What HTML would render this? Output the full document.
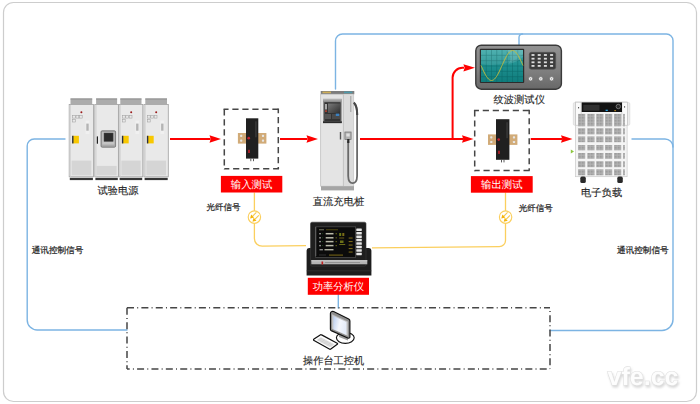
<!DOCTYPE html>
<html><head><meta charset="utf-8"><title>DC charging pile test system</title>
<style>
html,body{margin:0;padding:0;background:#fff;}
body{width:700px;height:404px;overflow:hidden;font-family:"Liberation Sans",sans-serif;}
svg{display:block;}
svg text{font-family:"Liberation Sans",sans-serif;text-rendering:geometricPrecision;}
</style></head>
<body>
<svg width="700" height="404" viewBox="0 0 700 404">
<defs><filter id="wm" x="-10%" y="-20%" width="130%" height="160%"><feGaussianBlur in="SourceAlpha" stdDeviation="1"/><feOffset dx="1" dy="1.5" result="b"/><feFlood flood-color="#d8d8d8"/><feComposite in2="b" operator="in"/><feMerge><feMergeNode/><feMergeNode in="SourceGraphic"/></feMerge></filter></defs>
<rect x="3.5" y="2.5" width="693" height="399" rx="10" ry="10" fill="#fff" stroke="#cdcdcd" stroke-width="1.2"/>
<text x="643" y="384.5" text-anchor="middle" font-family="Liberation Sans, sans-serif" font-weight="bold" font-size="25" fill="#fdfdfd" stroke="#e0e0e0" stroke-width="1.1" paint-order="stroke" filter="url(#wm)">vfe.cc</text>
<path d="M65,139 H34.2 A7,7 0 0 0 27.2,146 V320 A10,10 0 0 0 37.2,330 H127" fill="none" stroke="#7cb4e3" stroke-width="1.4" stroke-linecap="round"/>
<path d="M550,330.5 H662 A11,11 0 0 0 673,319.5 V40.5 A6.5,6.5 0 0 0 666.5,34 H342.5 A7,7 0 0 0 335.5,41 V89" fill="none" stroke="#7cb4e3" stroke-width="1.4" stroke-linecap="round"/>
<path d="M632,139 H665 A8,8 0 0 1 673,147" fill="none" stroke="#7cb4e3" stroke-width="1.4" stroke-linecap="round"/>
<path d="M522.5,34 A3.5,3.5 0 0 0 519,37.5 V45" fill="none" stroke="#7cb4e3" stroke-width="1.4" stroke-linecap="round"/>
<path d="M338.3,294 V308" fill="none" stroke="#7cb4e3" stroke-width="1.4" stroke-linecap="round"/>
<path d="M254.4,192.5 V238.4 A7.8,7.8 0 0 0 262.2,246.2 L306,245.7" fill="none" stroke="#fbcf5e" stroke-width="1.3"/>
<path d="M505.5,192.5 V240.4 A6.2,6.2 0 0 1 499.3,246.6 L372,247.8" fill="none" stroke="#fbcf5e" stroke-width="1.3"/>
<circle cx="254.4" cy="217.1" r="6.2" fill="#fff" stroke="#fbcf5e" stroke-width="1.15"/><line x1="252.67" y1="216.07" x2="256.40" y2="212.40" stroke="#f6c94a" stroke-width="1.05"/><polygon points="250.10,218.60 254.14,217.57 251.19,214.58" fill="#f5b50a"/><line x1="255.05" y1="219.15" x2="258.80" y2="215.40" stroke="#f6c94a" stroke-width="1.05"/><polygon points="252.50,221.70 256.53,220.64 253.56,217.67" fill="#f5b50a"/>
<circle cx="505.6" cy="217.1" r="6.2" fill="#fff" stroke="#fbcf5e" stroke-width="1.15"/><line x1="503.87" y1="216.07" x2="507.60" y2="212.40" stroke="#f6c94a" stroke-width="1.05"/><polygon points="501.30,218.60 505.34,217.57 502.39,214.58" fill="#f5b50a"/><line x1="506.25" y1="219.15" x2="510.00" y2="215.40" stroke="#f6c94a" stroke-width="1.05"/><polygon points="503.70,221.70 507.73,220.64 504.76,217.67" fill="#f5b50a"/>
<path d="M170,139 H210.5" fill="none" stroke="#fe0000" stroke-width="2"/><path d="M221,139 L209.5,135.2 L210.7,139 L209.5,142.8 Z" fill="#fe0000"/>
<path d="M280,139 H307.5" fill="none" stroke="#fe0000" stroke-width="2"/><path d="M318,139 L306.5,135.2 L307.7,139 L306.5,142.8 Z" fill="#fe0000"/>
<path d="M360,139 H463.0" fill="none" stroke="#fe0000" stroke-width="2"/><path d="M473.5,139 L462.0,135.2 L463.2,139 L462.0,142.8 Z" fill="#fe0000"/>
<path d="M530.7,139 H562.0" fill="none" stroke="#fe0000" stroke-width="2"/><path d="M572.5,139 L561.0,135.2 L562.2,139 L561.0,142.8 Z" fill="#fe0000"/>
<path d="M452.6,139 V77.6 A9.8,9.8 0 0 1 462.4,67.8 H464" fill="none" stroke="#fe0000" stroke-width="2"/>
<path d="M475,67.8 L463.4,64.2 L464.6,67.8 L463.4,71.4 Z" fill="#fe0000"/>
<path d="M574,151.5 L570.8,149.6 L570.8,153.4 Z" fill="#8dc63f"/>
<path d="M223.55,109.2 H278.3" fill="none" stroke="#464646" stroke-width="1.5" stroke-dasharray="6.2 3.8" stroke-dashoffset="1.2"/><path d="M224.3,109.2 V169.55" fill="none" stroke="#464646" stroke-width="1.5" stroke-dasharray="6.2 3.8"/><path d="M278.3,108.45 V168.8" fill="none" stroke="#464646" stroke-width="1.5" stroke-dasharray="6.2 3.8" stroke-dashoffset="1.5"/><path d="M224.3,168.8 H279.05" fill="none" stroke="#464646" stroke-width="1.5" stroke-dasharray="6.2 3.8" stroke-dashoffset="1.2"/>
<path d="M473.95,110.4 H529.2" fill="none" stroke="#464646" stroke-width="1.5" stroke-dasharray="6.2 3.8" stroke-dashoffset="1.2"/><path d="M474.7,110.4 V171.15" fill="none" stroke="#464646" stroke-width="1.5" stroke-dasharray="6.2 3.8"/><path d="M529.2,109.65 V170.4" fill="none" stroke="#464646" stroke-width="1.5" stroke-dasharray="6.2 3.8" stroke-dashoffset="1.5"/><path d="M474.7,170.4 H529.95" fill="none" stroke="#464646" stroke-width="1.5" stroke-dasharray="6.2 3.8" stroke-dashoffset="1.2"/>
<path d="M127,307.8 H550" fill="none" stroke="#464646" stroke-width="1.5" stroke-dasharray="7 3.19 1 3.19"/>
<path d="M127,307.8 V369" fill="none" stroke="#464646" stroke-width="1.5" stroke-dasharray="7 3.19 1 3.19"/>
<path d="M127,369 H550" fill="none" stroke="#464646" stroke-width="1.5" stroke-dasharray="7 3.19 1 3.19" stroke-dashoffset="4.3"/>
<path d="M550,307.8 V369" fill="none" stroke="#464646" stroke-width="1.5" stroke-dasharray="7 3.19 1 3.19" stroke-dashoffset="7"/>
<rect x="220.9" y="175.9" width="61.4" height="16.6" fill="#fe0000"/><text x="251.6" y="188.04800000000003" text-anchor="middle" font-size="10.4" font-weight="300" fill="#fff" textLength="41.6" lengthAdjust="spacing">输入测试</text>
<rect x="470.9" y="176.1" width="61.8" height="16.6" fill="#fe0000"/><text x="501.79999999999995" y="188.24800000000002" text-anchor="middle" font-size="10.4" font-weight="300" fill="#fff" textLength="41.6" lengthAdjust="spacing">输出测试</text>
<rect x="307.8" y="277.8" width="61.2" height="17" fill="#fe0000"/><text x="338.40000000000003" y="290.111" text-anchor="middle" font-size="10.3" font-weight="300" fill="#fff" textLength="51.5" lengthAdjust="spacing">功率分析仪</text>
<text x="118" y="194.2" text-anchor="middle" font-size="10.3" font-weight="500" fill="#262626" stroke="#262626" stroke-width="0.12" textLength="41.2" lengthAdjust="spacing">试验电源</text>
<text x="338.5" y="204.6" text-anchor="middle" font-size="10.3" font-weight="500" fill="#262626" stroke="#262626" stroke-width="0.12" textLength="51.5" lengthAdjust="spacing">直流充电桩</text>
<text x="519.2" y="103.2" text-anchor="middle" font-size="10.3" font-weight="500" fill="#262626" stroke="#262626" stroke-width="0.12" textLength="51.5" lengthAdjust="spacing">纹波测试仪</text>
<text x="601.6" y="195.8" text-anchor="middle" font-size="10.3" font-weight="500" fill="#262626" stroke="#262626" stroke-width="0.12" textLength="41.2" lengthAdjust="spacing">电子负载</text>
<text x="333.6" y="363.6" text-anchor="middle" font-size="10.2" font-weight="500" fill="#262626" stroke="#262626" stroke-width="0.12" textLength="61.2" lengthAdjust="spacing">操作台工控机</text>
<text x="223.6" y="210.3" text-anchor="middle" font-size="8.5" font-weight="500" fill="#262626" stroke="#262626" stroke-width="0.22" textLength="34.0" lengthAdjust="spacing">光纤信号</text>
<text x="535.7" y="210.8" text-anchor="middle" font-size="8.5" font-weight="500" fill="#262626" stroke="#262626" stroke-width="0.22" textLength="34.0" lengthAdjust="spacing">光纤信号</text>
<text x="57.5" y="252.5" text-anchor="middle" font-size="8.6" font-weight="500" fill="#262626" stroke="#262626" stroke-width="0.22" textLength="51.6" lengthAdjust="spacing">通讯控制信号</text>
<text x="642.8" y="252.5" text-anchor="middle" font-size="8.6" font-weight="500" fill="#262626" stroke="#262626" stroke-width="0.22" textLength="51.6" lengthAdjust="spacing">通讯控制信号</text>
<rect x="70.5" y="98.5" width="21.7" height="6" fill="#acacac"/><rect x="70.5" y="98.5" width="21.7" height="1" fill="#8e8e8e"/><rect x="69.2" y="104.5" width="24.3" height="72.3" fill="#e9e9e9" stroke="#a4a4a4" stroke-width="0.85"/><rect x="69.60000000000001" y="104.9" width="1.4" height="71.5" fill="#d6d6d6"/><rect x="69.8" y="177.8" width="23.1" height="2.3" fill="#363636"/><rect x="71.60000000000001" y="160.6" width="19.700000000000003" height="14.7" fill="#d5d5d5"/><circle cx="81.4" cy="112.2" r="1" fill="#9a1a1a"/><rect x="72.6" y="115.5" width="2.8" height="2.6" fill="none" stroke="#a0a0a0" stroke-width="0.55"/><rect x="76.0" y="115.5" width="2.8" height="2.6" fill="none" stroke="#a0a0a0" stroke-width="0.55"/><rect x="79.4" y="115.5" width="2.8" height="2.6" fill="none" stroke="#a0a0a0" stroke-width="0.55"/><rect x="72.60000000000001" y="119.6" width="2.8" height="2.4" fill="none" stroke="#a0a0a0" stroke-width="0.55"/><rect x="85.6" y="120.5" width="3.8" height="13.5" fill="#f0f0f0"/><rect x="86.30000000000001" y="123.6" width="2.4" height="7.1" fill="#b4b4b4"/><rect x="72.10000000000001" y="135.8" width="6.8" height="7.6" fill="#f8c800"/><rect x="72.10000000000001" y="135.8" width="1.4" height="7.6" fill="#2b3048"/>
<rect x="96.1" y="98.5" width="21.0" height="6" fill="#acacac"/><rect x="96.1" y="98.5" width="21.0" height="1" fill="#8e8e8e"/><rect x="94.8" y="104.5" width="23.6" height="72.3" fill="#e9e9e9" stroke="#a4a4a4" stroke-width="0.85"/><rect x="95.2" y="104.9" width="1.4" height="71.5" fill="#d6d6d6"/><rect x="95.39999999999999" y="177.8" width="22.400000000000002" height="2.3" fill="#363636"/><rect x="96.6" y="165.9" width="20.0" height="9.4" fill="#d5d5d5"/><rect x="101.0" y="130.8" width="14.6" height="16.4" rx="1.2" fill="#a9a9a9" stroke="#6e6e6e" stroke-width="0.8"/><rect x="102.2" y="132" width="12.2" height="12.6" fill="#c4c4c4"/><rect x="104.0" y="133" width="9.1" height="8.4" fill="#2c2c2c" stroke="#4a4a4a" stroke-width="0.5"/><rect x="96.8" y="136.3" width="1.2" height="7.4" rx="0.5" fill="#222"/>
<rect x="120.3" y="98.5" width="21.2" height="6" fill="#acacac"/><rect x="120.3" y="98.5" width="21.2" height="1" fill="#8e8e8e"/><rect x="119" y="104.5" width="23.8" height="72.3" fill="#e9e9e9" stroke="#a4a4a4" stroke-width="0.85"/><rect x="119.4" y="104.9" width="1.4" height="71.5" fill="#d6d6d6"/><rect x="119.6" y="177.8" width="22.6" height="2.3" fill="#363636"/><rect x="121.4" y="160.6" width="19.200000000000003" height="14.7" fill="#d5d5d5"/><circle cx="131.2" cy="112.2" r="1" fill="#9a1a1a"/><rect x="122.4" y="115.5" width="2.8" height="2.6" fill="none" stroke="#a0a0a0" stroke-width="0.55"/><rect x="125.8" y="115.5" width="2.8" height="2.6" fill="none" stroke="#a0a0a0" stroke-width="0.55"/><rect x="129.2" y="115.5" width="2.8" height="2.6" fill="none" stroke="#a0a0a0" stroke-width="0.55"/><rect x="122.4" y="119.6" width="2.8" height="2.4" fill="none" stroke="#a0a0a0" stroke-width="0.55"/><rect x="135.4" y="120.5" width="3.8" height="13.5" fill="#f0f0f0"/><rect x="136.1" y="123.6" width="2.4" height="7.1" fill="#b4b4b4"/><rect x="121.9" y="135.8" width="6.8" height="7.6" fill="#f8c800"/><rect x="121.9" y="135.8" width="1.4" height="7.6" fill="#2b3048"/>
<rect x="145.3" y="98.5" width="21.7" height="6" fill="#acacac"/><rect x="145.3" y="98.5" width="21.7" height="1" fill="#8e8e8e"/><rect x="144" y="104.5" width="24.3" height="72.3" fill="#e9e9e9" stroke="#a4a4a4" stroke-width="0.85"/><rect x="144.4" y="104.9" width="1.4" height="71.5" fill="#d6d6d6"/><rect x="144.6" y="177.8" width="23.1" height="2.3" fill="#363636"/><rect x="146.4" y="160.6" width="19.700000000000003" height="14.7" fill="#d5d5d5"/><circle cx="156.2" cy="112.2" r="1" fill="#9a1a1a"/><rect x="147.4" y="115.5" width="2.8" height="2.6" fill="none" stroke="#a0a0a0" stroke-width="0.55"/><rect x="150.8" y="115.5" width="2.8" height="2.6" fill="none" stroke="#a0a0a0" stroke-width="0.55"/><rect x="154.2" y="115.5" width="2.8" height="2.6" fill="none" stroke="#a0a0a0" stroke-width="0.55"/><rect x="147.4" y="119.6" width="2.8" height="2.4" fill="none" stroke="#a0a0a0" stroke-width="0.55"/><rect x="160.4" y="120.5" width="3.8" height="13.5" fill="#f0f0f0"/><rect x="161.1" y="123.6" width="2.4" height="7.1" fill="#b4b4b4"/><rect x="146.9" y="135.8" width="6.8" height="7.6" fill="#f8c800"/><rect x="146.9" y="135.8" width="1.4" height="7.6" fill="#2b3048"/>
<rect x="237.9" y="133" width="28.5" height="10.6" fill="#d1ab78"/><rect x="240.10000000000002" y="134.8" width="2.2" height="2.2" rx="0.7" fill="#e6e6e6"/><rect x="240.10000000000002" y="139.5" width="2.2" height="2.2" rx="0.7" fill="#e6e6e6"/><rect x="261.90000000000003" y="134.8" width="2.2" height="2.2" rx="0.7" fill="#e6e6e6"/><rect x="261.90000000000003" y="139.5" width="2.2" height="2.2" rx="0.7" fill="#e6e6e6"/><rect x="246" y="118.3" width="12.3" height="40.3" fill="#202020"/><rect x="255.5" y="121.3" width="0.9" height="16" fill="#4a4a4a"/><circle cx="248.7" cy="138.2" r="1.35" fill="#c4202e"/><rect x="248.1" y="149.8" width="1.8" height="3.2" fill="#b02028"/><rect x="250.45000000000002" y="158.6" width="0.8" height="2.6" fill="#333"/><rect x="253.05" y="158.6" width="0.8" height="2.6" fill="#333"/>
<rect x="488" y="134.4" width="29.4" height="10.5" fill="#d1ab78"/><rect x="490.2" y="136.20000000000002" width="2.2" height="2.2" rx="0.7" fill="#e6e6e6"/><rect x="490.2" y="140.9" width="2.2" height="2.2" rx="0.7" fill="#e6e6e6"/><rect x="512.9" y="136.20000000000002" width="2.2" height="2.2" rx="0.7" fill="#e6e6e6"/><rect x="512.9" y="140.9" width="2.2" height="2.2" rx="0.7" fill="#e6e6e6"/><rect x="496" y="119.2" width="13.4" height="40.6" fill="#202020"/><rect x="506.59999999999997" y="122.2" width="0.9" height="16" fill="#4a4a4a"/><circle cx="498.7" cy="139.6" r="1.35" fill="#c4202e"/><rect x="498.1" y="150.7" width="1.8" height="3.2" fill="#b02028"/><rect x="501.0" y="159.8" width="0.8" height="2.6" fill="#333"/><rect x="503.59999999999997" y="159.8" width="0.8" height="2.6" fill="#333"/>
<rect x="320.7" y="91" width="33.6" height="3.2" fill="#7d7d7d"/>
<rect x="322.5" y="91.6" width="8.5" height="1.6" fill="#cfae58"/>
<rect x="344" y="91.6" width="8.3" height="1.6" fill="#4f9aab"/>
<rect x="320.7" y="94.2" width="33" height="92" fill="#e4e4e4" stroke="#b8b8b8" stroke-width="0.7"/>
<rect x="343.4" y="94.5" width="10" height="91.5" fill="#dcdcdc"/>
<line x1="343.4" y1="94.5" x2="343.4" y2="186" stroke="#b0b0b0" stroke-width="0.6"/>
<defs><linearGradient id="cps" x1="0" y1="0" x2="1" y2="1"><stop offset="0" stop-color="#7a7a7a"/><stop offset="1" stop-color="#303030"/></linearGradient></defs>
<rect x="323" y="98.9" width="18.8" height="24.2" fill="#8e8e8e"/>
<rect x="323" y="98.9" width="18.8" height="1.6" fill="#b0b0b0"/>
<rect x="324.3" y="102.2" width="16.3" height="19" fill="#333"/>
<rect x="328" y="103.5" width="12" height="9.5" fill="url(#cps)"/>
<rect x="325" y="104" width="2" height="5.5" fill="#aaa"/>
<rect x="325" y="110.3" width="2" height="1.6" fill="#b04030"/>
<rect x="325" y="114" width="6" height="5" fill="#555"/>
<rect x="332" y="114" width="8" height="5" fill="#4a4a4a"/>
<rect x="335.8" y="113.6" width="3.4" height="2.4" fill="#3a80c0"/>
<rect x="323" y="121.3" width="18.8" height="1.8" fill="#2a2a2a"/>
<rect x="350.1" y="96" width="1.3" height="16" fill="#acacac"/>
<rect x="339.8" y="132" width="1.4" height="7.5" fill="#555"/>
<rect x="344.9" y="132" width="6.2" height="7.5" fill="#b0b0b0" stroke="#6f6f6f" stroke-width="0.7"/><rect x="346.3" y="133.5" width="3.4" height="3" fill="#e0e0e0"/>
<path d="M348.2,141 V176 Q348.4,183.2 352.6,183.2 Q356.9,183.2 357.1,176 V114 Q357.1,106.5 354,103.2" fill="none" stroke="#6a6a6a" stroke-width="1.8"/>
<rect x="347.2" y="139" width="2.2" height="4" fill="#2a2a2a"/>
<path d="M353.8,102.6 Q357.2,105.8 357.2,115" fill="none" stroke="#474747" stroke-width="2.1"/>
<rect x="321" y="186.2" width="33" height="4.2" fill="#a5a5a5"/>
<defs><linearGradient id="og" x1="0" y1="0" x2="0" y2="1"><stop offset="0" stop-color="#929292"/><stop offset="0.55" stop-color="#818181"/><stop offset="1" stop-color="#686868"/></linearGradient><linearGradient id="sg" x1="0" y1="0" x2="0" y2="1"><stop offset="0" stop-color="#3ea9a8"/><stop offset="0.5" stop-color="#1d8f8f"/><stop offset="1" stop-color="#0f7c7c"/></linearGradient></defs>
<rect x="475.8" y="45.2" width="85.6" height="44" rx="5.5" fill="url(#og)" stroke="#3a3a3a" stroke-width="1.4"/>
<rect x="479.8" y="48.8" width="44.4" height="34.2" rx="1" fill="#2c2c2c"/>
<rect x="481" y="50" width="42" height="32" fill="url(#sg)"/>
<path d="M486.25,50 V82 M491.50,50 V82 M496.75,50 V82 M502.00,50 V82 M507.25,50 V82 M512.50,50 V82 M517.75,50 V82 M481,55.33 H523 M481,60.67 H523 M481,66.00 H523 M481,71.33 H523 M481,76.67 H523" stroke="#0a6262" stroke-width="0.55" opacity="0.75"/>
<path d="M481,50 H523 V54 Q514,63 499,64.5 Q489,65.5 481,64 Z" fill="#ffffff" opacity="0.09"/>
<path d="M506,50 H523 V57 Q517,62.5 508,64 Q514,58 506,50 Z" fill="#ffffff" opacity="0.12"/>
<polyline points="481.00,65.50 481.50,66.62 482.00,67.74 482.50,68.84 483.00,69.92 483.50,70.98 484.00,72.01 484.50,73.00 485.00,73.95 485.50,74.85 486.00,75.70 486.50,76.50 487.00,77.23 487.50,77.89 488.00,78.49 488.50,79.01 489.00,79.46 489.50,79.83 490.00,80.12 490.50,80.33 491.00,80.46 491.50,80.50 492.00,80.46 492.50,80.33 493.00,80.12 493.50,79.83 494.00,79.46 494.50,79.01 495.00,78.49 495.50,77.89 496.00,77.23 496.50,76.50 497.00,75.70 497.50,74.85 498.00,73.95 498.50,73.00 499.00,72.01 499.50,70.98 500.00,69.92 500.50,68.84 501.00,67.74 501.50,66.62 502.00,65.50 502.50,64.38 503.00,63.26 503.50,62.16 504.00,61.08 504.50,60.02 505.00,58.99 505.50,58.00 506.00,57.05 506.50,56.15 507.00,55.30 507.50,54.50 508.00,53.77 508.50,53.11 509.00,52.51 509.50,51.99 510.00,51.54 510.50,51.17 511.00,50.88 511.50,50.67 512.00,50.54 512.50,50.50 513.00,50.54 513.50,50.67 514.00,50.88 514.50,51.17 515.00,51.54 515.50,51.99 516.00,52.51 516.50,53.11 517.00,53.77 517.50,54.50 518.00,55.30 518.50,56.15 519.00,57.05 519.50,58.00 520.00,58.99 520.50,60.02 521.00,61.08 521.50,62.16 522.00,63.26 522.50,64.38 523.00,65.50" fill="none" stroke="#c4bc3c" stroke-width="0.95"/>
<rect x="529.3" y="52.3" width="26.4" height="17" rx="2" fill="#3c3c3c" stroke="#555" stroke-width="0.6"/>
<rect x="531.5" y="54.1" width="3" height="1.8" fill="#dcdcdc"/>
<rect x="531.5" y="57.800000000000004" width="3" height="1.8" fill="#dcdcdc"/>
<rect x="531.5" y="61.4" width="3" height="1.8" fill="#dcdcdc"/>
<rect x="531.5" y="65.0" width="3" height="1.8" fill="#dcdcdc"/>
<rect x="537.7" y="54.1" width="3" height="1.8" fill="#dcdcdc"/>
<rect x="537.7" y="57.800000000000004" width="3" height="1.8" fill="#dcdcdc"/>
<rect x="537.7" y="61.4" width="3" height="1.8" fill="#dcdcdc"/>
<rect x="537.7" y="65.0" width="3" height="1.8" fill="#dcdcdc"/>
<rect x="543.9" y="54.1" width="3" height="1.8" fill="#dcdcdc"/>
<rect x="543.9" y="57.800000000000004" width="3" height="1.8" fill="#dcdcdc"/>
<rect x="543.9" y="61.4" width="3" height="1.8" fill="#dcdcdc"/>
<rect x="543.9" y="65.0" width="3" height="1.8" fill="#dcdcdc"/>
<rect x="550.1" y="54.1" width="3" height="1.8" fill="#dcdcdc"/>
<rect x="550.1" y="57.800000000000004" width="3" height="1.8" fill="#dcdcdc"/>
<rect x="550.1" y="61.4" width="3" height="1.8" fill="#dcdcdc"/>
<rect x="550.1" y="65.0" width="3" height="1.8" fill="#dcdcdc"/>
<circle cx="530.6" cy="78.8" r="2.2" fill="#eeeeee" stroke="#6a6a6a" stroke-width="0.7"/><circle cx="530.6" cy="78.8" r="0.6" fill="#888"/>
<circle cx="540.8" cy="78.8" r="2.2" fill="#eeeeee" stroke="#6a6a6a" stroke-width="0.7"/><circle cx="540.8" cy="78.8" r="0.6" fill="#888"/>
<circle cx="551.6" cy="78.8" r="2.2" fill="#eeeeee" stroke="#6a6a6a" stroke-width="0.7"/><circle cx="551.6" cy="78.8" r="0.6" fill="#888"/>
<rect x="573.3" y="102.6" width="3.4" height="22.6" rx="1.2" fill="#ececec" stroke="#cfcfcf" stroke-width="0.5"/>
<rect x="626.4" y="102.6" width="3.4" height="22.6" rx="1.2" fill="#ececec" stroke="#cfcfcf" stroke-width="0.5"/>
<rect x="575.5" y="102" width="51.6" height="74.7" fill="#f4f4f4" stroke="#c9c9c9" stroke-width="0.7"/>
<rect x="575.7" y="102.2" width="5.4" height="23" fill="#fafafa" stroke="#bdbdbd" stroke-width="0.6"/>
<rect x="621.9" y="102.2" width="5.4" height="23" fill="#fafafa" stroke="#bdbdbd" stroke-width="0.6"/>
<rect x="581.7" y="102.4" width="40.3" height="9.6" fill="#121212"/>
<rect x="583.3" y="104.8" width="16.2" height="6" fill="#303030"/>
<circle cx="618.3" cy="106.5" r="2.2" fill="#2a2a2a" stroke="#7a7a7a" stroke-width="0.9"/>
<rect x="605.6" y="109.7" width="2.2" height="1.3" fill="#2aa0e0"/>
<rect x="614.5" y="110" width="1.2" height="1.2" fill="#e0a020"/>
<rect x="578" y="107" width="1.1" height="1.4" fill="#555"/><rect x="624" y="106.2" width="1.1" height="1.4" fill="#555"/>
<defs><pattern id="perf" width="1.5" height="1.5" patternUnits="userSpaceOnUse"><rect width="1.5" height="1.5" fill="#b6b6b6"/><rect width="0.9" height="0.9" fill="#939393"/></pattern></defs>
<rect x="578" y="113.9" width="7.2" height="12.4" fill="url(#perf)"/>
<rect x="587.3" y="113.9" width="7.2" height="12.4" fill="url(#perf)"/>
<rect x="596.2" y="113.9" width="7.2" height="12.4" fill="url(#perf)"/>
<rect x="605" y="113.9" width="7.2" height="12.4" fill="url(#perf)"/>
<rect x="614" y="113.9" width="7.2" height="12.4" fill="url(#perf)"/>
<rect x="623" y="113.9" width="1.8" height="12.4" fill="url(#perf)"/>
<rect x="578" y="128.2" width="7.2" height="6.2" fill="url(#perf)"/>
<rect x="587.3" y="128.2" width="7.2" height="6.2" fill="url(#perf)"/>
<rect x="596.2" y="128.2" width="7.2" height="6.2" fill="url(#perf)"/>
<rect x="605" y="128.2" width="7.2" height="6.2" fill="url(#perf)"/>
<rect x="614" y="128.2" width="7.2" height="6.2" fill="url(#perf)"/>
<rect x="623" y="128.2" width="1.8" height="6.2" fill="url(#perf)"/>
<rect x="578" y="136.4" width="7.2" height="5.8" fill="url(#perf)"/>
<rect x="587.3" y="136.4" width="7.2" height="5.8" fill="url(#perf)"/>
<rect x="596.2" y="136.4" width="7.2" height="5.8" fill="url(#perf)"/>
<rect x="605" y="136.4" width="7.2" height="5.8" fill="url(#perf)"/>
<rect x="614" y="136.4" width="7.2" height="5.8" fill="url(#perf)"/>
<rect x="623" y="136.4" width="1.8" height="5.8" fill="url(#perf)"/>
<rect x="578" y="145" width="7.2" height="5.3" fill="url(#perf)"/>
<rect x="587.3" y="145" width="7.2" height="5.3" fill="url(#perf)"/>
<rect x="596.2" y="145" width="7.2" height="5.3" fill="url(#perf)"/>
<rect x="605" y="145" width="7.2" height="5.3" fill="url(#perf)"/>
<rect x="614" y="145" width="7.2" height="5.3" fill="url(#perf)"/>
<rect x="623" y="145" width="1.8" height="5.3" fill="url(#perf)"/>
<rect x="578" y="153" width="7.2" height="5.8" fill="url(#perf)"/>
<rect x="587.3" y="153" width="7.2" height="5.8" fill="url(#perf)"/>
<rect x="596.2" y="153" width="7.2" height="5.8" fill="url(#perf)"/>
<rect x="605" y="153" width="7.2" height="5.8" fill="url(#perf)"/>
<rect x="614" y="153" width="7.2" height="5.8" fill="url(#perf)"/>
<rect x="623" y="153" width="1.8" height="5.8" fill="url(#perf)"/>
<rect x="578" y="161.2" width="7.2" height="6.0" fill="url(#perf)"/>
<rect x="587.3" y="161.2" width="7.2" height="6.0" fill="url(#perf)"/>
<rect x="596.2" y="161.2" width="7.2" height="6.0" fill="url(#perf)"/>
<rect x="605" y="161.2" width="7.2" height="6.0" fill="url(#perf)"/>
<rect x="614" y="161.2" width="7.2" height="6.0" fill="url(#perf)"/>
<rect x="623" y="161.2" width="1.8" height="6.0" fill="url(#perf)"/>
<rect x="578" y="169.3" width="7.2" height="6.0" fill="url(#perf)"/>
<rect x="587.3" y="169.3" width="7.2" height="6.0" fill="url(#perf)"/>
<rect x="596.2" y="169.3" width="7.2" height="6.0" fill="url(#perf)"/>
<rect x="605" y="169.3" width="7.2" height="6.0" fill="url(#perf)"/>
<rect x="614" y="169.3" width="7.2" height="6.0" fill="url(#perf)"/>
<rect x="623" y="169.3" width="1.8" height="6.0" fill="url(#perf)"/>
<rect x="580.3" y="176.6" width="5.5" height="6.4" rx="1.6" fill="#2a2a2a"/>
<rect x="617.3" y="176.6" width="5.5" height="6.4" rx="1.6" fill="#2a2a2a"/>
<path d="M306.6,275.5 V250.5 Q306.6,248 309,248 H311 V260 H366 V248 H369 Q371.4,248 371.4,250.5 V275.5 Z" fill="#1d1d1d"/>
<rect x="310.5" y="222.2" width="55.5" height="44" rx="1.5" fill="#1f1f1f" stroke="#3a3a3a" stroke-width="0.6"/>
<rect x="315.6" y="226.8" width="40" height="30.6" fill="#0b0b0b" stroke="#4a4a4a" stroke-width="0.8"/>
<rect x="311.3" y="260.3" width="56" height="4" fill="#b4b4b4"/>
<rect x="311.3" y="260.3" width="56" height="0.9" fill="#dadada"/><rect x="325" y="262" width="35" height="0.8" fill="#8a8a8a"/>
<rect x="321.5" y="261.5" width="1.6" height="3" fill="#c02020"/>
<rect x="306.6" y="270.6" width="64.8" height="0.6" fill="#3a3a3a"/>
<rect x="356.3" y="228.50" width="5.5" height="2.5" rx="0.4" fill="#e6e6e6"/>
<rect x="356.3" y="231.95" width="5.5" height="2.5" rx="0.4" fill="#e6e6e6"/>
<rect x="356.3" y="235.40" width="5.5" height="2.5" rx="0.4" fill="#e6e6e6"/>
<rect x="356.3" y="238.85" width="5.5" height="2.5" rx="0.4" fill="#e6e6e6"/>
<rect x="356.3" y="242.30" width="5.5" height="2.5" rx="0.4" fill="#e6e6e6"/>
<rect x="356.3" y="245.75" width="5.5" height="2.5" rx="0.4" fill="#e6e6e6"/>
<rect x="356.3" y="249.20" width="5.5" height="2.5" rx="0.4" fill="#e6e6e6"/>
<rect x="356.3" y="252.65" width="5.5" height="2.5" rx="0.4" fill="#e6e6e6"/>
<rect x="315" y="227" width="1.3" height="29" fill="#5a5a5a"/>
<rect x="319.2" y="233.0" width="1.7" height="1.4" fill="#9a9a9a"/>
<rect x="322.3" y="233.29999999999998" width="0.8" height="0.8" fill="#2a6a2a"/>
<rect x="325.7" y="232.95" width="7.8" height="1.5" fill="#b8b8a8"/>
<rect x="335.6" y="233.1" width="1.2" height="1.2" fill="#6a6a18"/>
<rect x="319.2" y="237.10000000000002" width="1.7" height="1.4" fill="#9a9a9a"/>
<rect x="322.3" y="237.4" width="0.8" height="0.8" fill="#2a6a2a"/>
<rect x="325.7" y="237.05" width="7.8" height="1.5" fill="#b8b8a8"/>
<rect x="335.6" y="237.20000000000002" width="1.2" height="1.2" fill="#6a6a18"/>
<rect x="319.2" y="240.9" width="1.7" height="1.4" fill="#9a9a9a"/>
<rect x="322.3" y="241.2" width="0.8" height="0.8" fill="#2a6a2a"/>
<rect x="325.7" y="240.85" width="7.8" height="1.5" fill="#b8b8a8"/>
<rect x="335.6" y="241.0" width="1.2" height="1.2" fill="#6a6a18"/>
<rect x="319.2" y="244.9" width="1.7" height="1.4" fill="#9a9a9a"/>
<rect x="322.3" y="245.2" width="0.8" height="0.8" fill="#2a6a2a"/>
<rect x="325.7" y="244.85" width="7.8" height="1.5" fill="#b8b8a8"/>
<rect x="335.6" y="245.0" width="1.2" height="1.2" fill="#6a6a18"/>
<rect x="319.5" y="249" width="3.4" height="1.4" fill="#8a8a8a"/><rect x="324.5" y="249" width="9" height="1.4" fill="#b0b0a0"/>
<rect x="319" y="229.2" width="5" height="1.1" fill="#6a6a5a"/><rect x="326" y="229.2" width="12" height="1.1" fill="#4a4210"/>
<rect x="339.2" y="233" width="2" height="3" fill="#6a7a18"/><rect x="342.3" y="233" width="2" height="3" fill="#7a6a18"/><rect x="339.2" y="237.5" width="5" height="1" fill="#6a5a18"/><rect x="340" y="240.5" width="3.5" height="2.5" fill="#6a7018"/><rect x="339.2" y="244" width="6" height="1" fill="#6a6a18"/>
<rect x="348.7" y="237.5" width="3.9" height="1.1" fill="#7a6818"/>
<rect x="348.7" y="241" width="3.9" height="1.1" fill="#7a6818"/>
<rect x="348.7" y="244.5" width="3.9" height="1.1" fill="#7a6818"/>
<rect x="348.7" y="248" width="3.9" height="1.1" fill="#7a6818"/>
<rect x="348.7" y="251.5" width="3.9" height="1.1" fill="#7a6818"/>
<rect x="329" y="254.5" width="14" height="1.2" fill="#6a5a14"/><rect x="319" y="254.6" width="7" height="0.8" fill="#3a3a3a"/>
<defs><linearGradient id="scr" x1="0" y1="0" x2="1" y2="0.3"><stop offset="0" stop-color="#b9cdef"/><stop offset="0.55" stop-color="#f4f7fd"/><stop offset="1" stop-color="#e6edf9"/></linearGradient></defs>
<ellipse cx="345.3" cy="337.8" rx="8.9" ry="5.5" fill="#fff" stroke="#111" stroke-width="1.15"/>
<path d="M339,333 L348,337 L348,340.5 L339,337 Z" fill="#9a9a9a"/>
<path d="M331.8,311.6 Q332.6,311.1 333.6,311.5 L348.7,318.9 Q349.9,319.6 349.9,321 L349.9,336.8 Q349.9,338.3 348.3,338.2 L331.2,330.6 Q330.4,330.2 330.4,329.2 L330.4,313.4 Q330.4,312.3 331.8,311.6 Z" fill="#8e8e8e" stroke="#111" stroke-width="1.15" stroke-linejoin="round"/>
<path d="M332,314.2 L347.9,321.6 L347.9,336 L332,328.8 Z" fill="#c2c2c2"/>
<path d="M333.3,315.9 L346.5,322 L346.5,335.1 L333.3,329.2 Z" fill="url(#scr)"/>
<path d="M313.6,340.2 Q313.3,339.6 314,339.1 L320.2,334.9 Q320.9,334.5 321.6,334.9 L337.2,343.3 Q338,343.8 337.3,344.3 L330.8,349.1 Q330.1,349.6 329.3,349.1 Z" fill="#fff" stroke="#111" stroke-width="1.2" stroke-linejoin="round"/>
<path d="M316.6,340.1 L320.9,337.2 L334.4,344.3 L330,347.3 Z" fill="#dedede"/>
<path d="M318,339.2 L332,346.6 M319.5,338.2 L333.4,345.6 M317.5,341 L321.8,338.1 M320.5,342.6 L324.8,339.7 M323.5,344.2 L327.8,341.3 M326.5,345.8 L330.8,342.9" stroke="#c8c8c8" stroke-width="0.4"/>
</svg>
</body></html>
